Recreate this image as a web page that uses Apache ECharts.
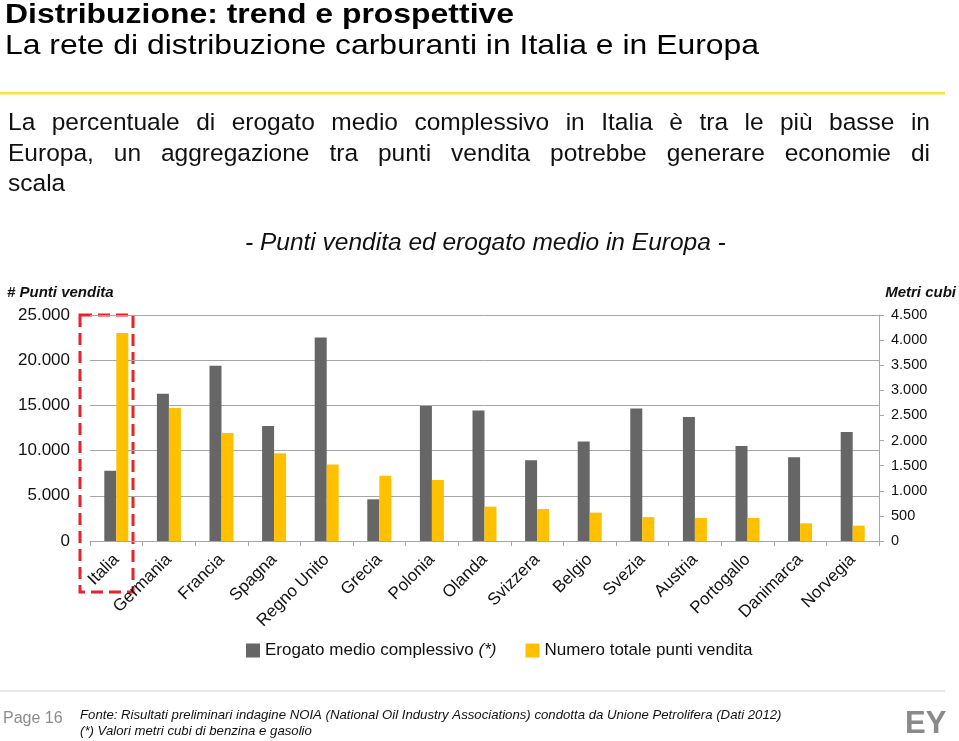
<!DOCTYPE html>
<html>
<head>
<meta charset="utf-8">
<script src="https://cdn.jsdelivr.net/npm/echarts@6/dist/echarts.min.js"></script>
<style>
html,body{margin:0;padding:0;background:#fff;}
#chart{width:959px;height:741px;}
</style>
</head>
<body>
<div id="chart"></div>
<script>
var categories = ['Italia','Germania','Francia','Spagna','Regno Unito','Grecia','Polonia','Olanda','Svizzera','Belgio','Svezia','Austria','Portogallo','Danimarca','Norvegia'];
var erogatoMedio = [1400, 2930, 3490, 2290, 4050, 830, 2690, 2600, 1610, 1980, 2640, 2470, 1890, 1670, 2170];
var puntiVendita = [23000, 14700, 11950, 9700, 8450, 7220, 6750, 3800, 3540, 3140, 2650, 2550, 2550, 1960, 1700];
var leftTicks = {min: 0, max: 25000, interval: 5000};
var rightTicks = {min: 0, max: 4500, interval: 500};
var seriesNames = ['Erogato medio complessivo (*)', 'Numero totale punti vendita'];

var FONT = '"Liberation Sans", Arial, sans-serif';
function fmt(v){ return String(v).replace(/\B(?=(\d{3})+(?!\d))/g, '.'); }

var chart = echarts.init(document.getElementById('chart'), null, {renderer: 'canvas'});

var measureCtx = document.createElement('canvas').getContext('2d');
function justifiedLine(text, x0, x1, y, size, color){
  measureCtx.font = size + 'px ' + FONT;
  var words = text.split(' ');
  var total = 0;
  words.forEach(function(w){ total += measureCtx.measureText(w).width; });
  var gap = (x1 - x0 - total) / (words.length - 1);
  var els = [], x = x0;
  words.forEach(function(w){
    els.push({type:'text', x: x, y: y, style:{text: w, font: size + 'px ' + FONT, fill: color, textVerticalAlign: 'top'}});
    x += measureCtx.measureText(w).width + gap;
  });
  return els;
}

var graphics = [
  {type:'text', x: 5, y: 15.5, scaleX: 1.14, style:{text:'Distribuzione: trend e prospettive', font:'bold 28px ' + FONT, fill:'#000', textVerticalAlign:'middle'}},
  {type:'text', x: 5, y: 46.5, scaleX: 1.14, style:{text:'La rete di distribuzione carburanti in Italia e in Europa', font:'28px ' + FONT, fill:'#000', textVerticalAlign:'middle'}},
  {type:'rect', shape:{x:0, y:92, width:945, height:2.5}, style:{fill:'#f4e43c'}},
  {type:'text', x: 8, y: 172, style:{text:'scala', font:'24.5px ' + FONT, fill:'#111', textVerticalAlign:'top'}},
  {type:'text', x: 245, y: 243, style:{text:'- Punti vendita ed erogato medio in Europa -', font:'italic 24.5px ' + FONT, fill:'#111', textVerticalAlign:'middle'}},
  {type:'text', x: 7, y: 285, style:{text:'# Punti vendita', font:'italic bold 15px ' + FONT, fill:'#111', textVerticalAlign:'top'}},
  {type:'text', right: 3, top: 285, style:{text:'Metri cubi', font:'italic bold 15px ' + FONT, fill:'#111'}},
  {type:'rect', shape:{x:80, y:315, width:53, height:277}, style:{fill:'none', stroke:'#e8232a', lineWidth:3, lineDash:[12,6]}},
  {type:'rect', shape:{x:0, y:690.5, width:945, height:1}, style:{fill:'#d0d0d0'}},
  {type:'text', x: 3, y: 711, style:{text:'Page 16', font:'16px ' + FONT, fill:'#8c8c8c', textVerticalAlign:'top'}},
  {type:'text', x: 80, y: 709, style:{text:'Fonte: Risultati preliminari indagine NOIA (National Oil Industry Associations) condotta da Unione Petrolifera (Dati 2012)', font:'italic 13.2px ' + FONT, fill:'#111', textVerticalAlign:'top'}},
  {type:'text', x: 80, y: 725, style:{text:'(*) Valori metri cubi di benzina e gasolio', font:'italic 13.2px ' + FONT, fill:'#111', textVerticalAlign:'top'}},
  {type:'text', x: 905, y: 709, style:{text:'EY', font:'bold 31px ' + FONT, fill:'#8a8a8a', textVerticalAlign:'top'}}
];
graphics = graphics.concat(
  justifiedLine('La percentuale di erogato medio complessivo in Italia è tra le più basse in', 8, 930, 111, 24.5, '#111'),
  justifiedLine('Europa, un aggregazione tra punti vendita potrebbe generare economie di', 8, 930, 142, 24.5, '#111')
);

var option = {
  animation: false,
  textStyle: {fontFamily: FONT},
  grid: {left: 90, right: 80, top: 315, bottom: 200, containLabel: false},
  legend: {
    left: 241, top: 637, itemWidth: 14, itemHeight: 14, itemGap: 29, icon: 'rect',
    data: seriesNames,
    formatter: function(name){
      if (name.indexOf('(*)') >= 0) return '{n|' + name.replace(' (*)', ' ') + '}{i|(*)}';
      return '{n|' + name + '}';
    },
    textStyle: {
      fontFamily: FONT, fontSize: 17, color: '#111',
      rich: {n: {fontFamily: FONT, fontSize: 17, color: '#111'}, i: {fontFamily: FONT, fontSize: 17, fontStyle: 'italic', color: '#111'}}
    }
  },
  xAxis: {
    type: 'category', data: categories, boundaryGap: true,
    axisLine: {show: true, lineStyle: {color: '#a6a6a6', width: 1}},
    axisTick: {show: true, length: 5, alignWithLabel: false, lineStyle: {color: '#a6a6a6'}},
    axisLabel: {rotate: 45, interval: 0, margin: 16, fontSize: 17, color: '#111', fontFamily: FONT}
  },
  yAxis: [
    {
      type: 'value', min: leftTicks.min, max: leftTicks.max, interval: leftTicks.interval,
      axisLine: {show: false}, axisTick: {show: false},
      splitLine: {show: true, lineStyle: {color: '#a6a6a6', width: 1}},
      axisLabel: {formatter: fmt, fontSize: 17, color: '#111', margin: 20, fontFamily: FONT}
    },
    {
      type: 'value', position: 'right', min: rightTicks.min, max: rightTicks.max, interval: rightTicks.interval,
      axisLine: {show: true, lineStyle: {color: '#a6a6a6'}},
      axisTick: {show: true, length: 5, inside: false, lineStyle: {color: '#a6a6a6'}},
      splitLine: {show: false},
      axisLabel: {formatter: fmt, fontSize: 14.5, color: '#111', margin: 12, fontFamily: FONT}
    }
  ],
  series: [
    {name: seriesNames[0], type: 'bar', yAxisIndex: 1, data: erogatoMedio, barWidth: 12, barGap: '0%', itemStyle: {color: '#666666'}},
    {name: seriesNames[1], type: 'bar', yAxisIndex: 0, data: puntiVendita, barWidth: 12, barGap: '0%', itemStyle: {color: '#ffc000'}}
  ],
  graphic: graphics
};
chart.setOption(option);
</script>
</body>
</html>
